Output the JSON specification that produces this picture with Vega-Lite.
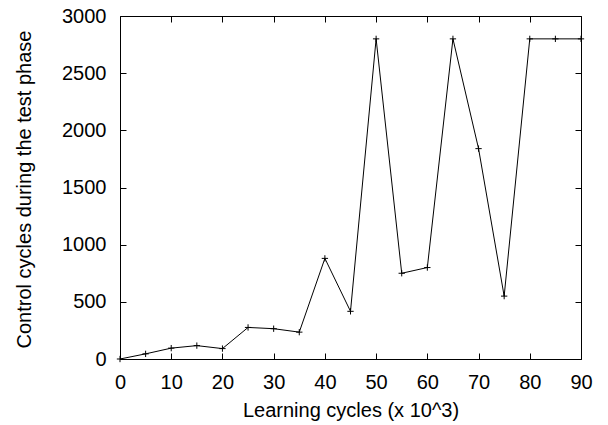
{
  "$schema": "https://vega.github.io/schema/vega-lite/v6.json",
  "width": 461,
  "height": 343,
  "autosize": {"type": "none"},
  "padding": {"left": 120, "top": 16, "right": 27, "bottom": 66},
  "background": "white",
  "config": {
    "view": {"stroke": "black", "strokeWidth": 1},
    "font": "Liberation Sans",
    "axis": {
      "grid": false,
      "domain": false,
      "tickColor": "black",
      "tickSize": -6,
      "tickWidth": 1,
      "labelFont": "Liberation Sans",
      "labelFontSize": 20,
      "labelColor": "black",
      "titleFont": "Liberation Sans",
      "titleFontSize": 20,
      "titleFontWeight": "normal",
      "titleColor": "black"
    }
  },
  "data": {
    "values": [
      {"x": 0, "y": 0},
      {"x": 5, "y": 45},
      {"x": 10, "y": 95},
      {"x": 15, "y": 117},
      {"x": 20, "y": 91},
      {"x": 25, "y": 276},
      {"x": 30, "y": 265},
      {"x": 35, "y": 235},
      {"x": 40, "y": 880},
      {"x": 45, "y": 417},
      {"x": 50, "y": 2800},
      {"x": 55, "y": 750},
      {"x": 60, "y": 800},
      {"x": 65, "y": 2800},
      {"x": 70, "y": 1840},
      {"x": 75, "y": 550},
      {"x": 80, "y": 2800},
      {"x": 85, "y": 2800},
      {"x": 90, "y": 2800}
    ]
  },
  "layer": [
    {
      "mark": {"type": "line", "color": "black", "strokeWidth": 1, "clip": true},
      "encoding": {
        "x": {
          "field": "x", "type": "quantitative",
          "scale": {"domain": [0, 90], "nice": false, "zero": false},
          "axis": {"orient": "bottom", "values": [0,10,20,30,40,50,60,70,80,90], "format": "d", "labelPadding": 19, "title": "Learning cycles (x 10^3)", "titlePadding": 8, "labelFlush": false, "labelOverlap": false}
        },
        "y": {
          "field": "y", "type": "quantitative",
          "scale": {"domain": [0, 3000], "nice": false, "zero": false},
          "axis": {"orient": "left", "values": [0,500,1000,1500,2000,2500,3000], "format": "d", "labelPadding": 20, "title": "Control cycles during the test phase", "titleX": -90, "titleY": 173, "titleBaseline": "alphabetic", "titleAngle": -90, "titleAlign": "center", "labelOverlap": false}
        }
      }
    },
    {
      "mark": {"type": "point", "shape": "M-1,0H1M0,-1V1", "filled": false, "stroke": "black", "strokeWidth": 1, "size": 40, "opacity": 1},
      "encoding": {
        "x": {
          "field": "x", "type": "quantitative",
          "axis": {"orient": "top", "values": [0,10,20,30,40,50,60,70,80,90], "labels": false, "title": null}
        },
        "y": {
          "field": "y", "type": "quantitative",
          "axis": {"orient": "right", "values": [0,500,1000,1500,2000,2500,3000], "labels": false, "title": null}
        }
      }
    }
  ],
  "resolve": {"axis": {"x": "independent", "y": "independent"}}
}
